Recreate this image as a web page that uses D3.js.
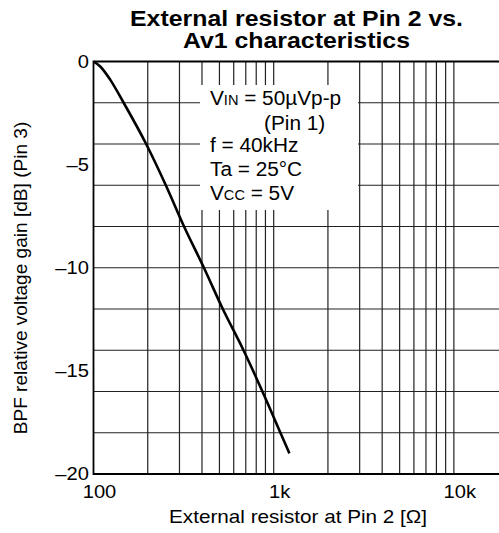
<!DOCTYPE html>
<html lang="en">
<head>
    <meta charset="UTF-8">
    <title>External resistor at Pin 2 vs. Av1 characteristics</title>
    <style>
        body {
            margin: 0;
            padding: 0;
            background: #fff;
        }
        svg text {
            font-family: 'Liberation Sans', Arial, sans-serif;
            fill: #000;
        }
    </style>
</head>
<body>
    <svg width="499" height="533"></svg>

    <script src="https://d3js.org/d3.v7.min.js"></script>
    <script>
        // values
        const resistance = [100, 109, 124, 147, 196, 252, 318, 410, 522, 680, 866, 1090, 1222];
        const gain = [0, -0.24, -0.89, -2, -4, -6, -8, -10, -12, -14, -16, -18, -19];

        const xTicks = [100, 1000, 10000];
        const xTickLabels = ['100', '1k', '10k'];
        const xGrid = [200, 300, 400, 500, 600, 700, 800, 900, 1000,
                       2000, 3000, 4000, 5000, 6000, 7000, 8000, 9000, 10000];
        const yTicks = [0, -5, -10, -15, -20];
        const yGrid = [-2, -4, -6, -8, -10, -12, -14, -16, -18];

        const noteLines = ['f = 40kHz', 'Ta = 25°C'];

        const plotLeft = 93.5, plotTop = 61.5, plotBottom = 474, plotRight = 499;

        const svg = d3.select('svg');

        const x = d3.scaleLog().domain([100, 17800]).range([plotLeft, plotRight]);
        const y = d3.scaleLinear().domain([-20, 0]).range([plotBottom, plotTop]);

        // the source font is a bit wider than Arial, so stretch text horizontally
        function label(parent, tx, ty, sx, size) {
            return parent.append('text')
                .attr('transform', `translate(${tx},${ty}) scale(${sx},1)`)
                .attr('font-size', size);
        }

        // grid
        svg.append('g')
            .selectAll('line')
            .data(xGrid)
            .join('line')
                .attr('x1', d => x(d)).attr('x2', d => x(d))
                .attr('y1', plotTop).attr('y2', plotBottom)
                .attr('stroke', '#222')
                .attr('stroke-width', 1.2);

        svg.append('g')
            .selectAll('line')
            .data(yGrid)
            .join('line')
                .attr('x1', plotLeft).attr('x2', plotRight)
                .attr('y1', d => y(d)).attr('y2', d => y(d))
                .attr('stroke', '#222')
                .attr('stroke-width', 1.2);

        // frame: left, top, bottom
        svg.append('path')
            .attr('d', `M${plotRight},${plotTop}H${plotLeft}V${plotBottom}H${plotRight}`)
            .attr('fill', 'none')
            .attr('stroke', '#000')
            .attr('stroke-width', 1.8);

        // conditions box (white background hides the grid)
        svg.append('rect')
            .attr('x', 200).attr('y', 85)
            .attr('width', 158).attr('height', 125)
            .attr('fill', '#fff');

        const note = svg.append('g');
        const t1 = label(note, 210, 105, 1.04, 20);
        t1.append('tspan').text('V');
        t1.append('tspan').attr('font-size', 14).text('IN');
        t1.append('tspan').text(' = 50µVp-p');
        label(note, 264, 130, 1.04, 20).text('(Pin 1)');
        noteLines.forEach((d, i) => {
            label(note, 210, 152 + i * 24, 1.04, 20).text(d);
        });
        const t5 = label(note, 210, 200, 1.04, 20);
        t5.append('tspan').text('V');
        t5.append('tspan').attr('font-size', 14).text('CC');
        t5.append('tspan').text(' = 5V');

        // curve
        const line = d3.line()
            .x((d, i) => x(resistance[i]))
            .y(d => y(d))
            .curve(d3.curveMonotoneX);

        svg.append('path')
            .datum(gain)
            .attr('d', line)
            .attr('fill', 'none')
            .attr('stroke', '#000')
            .attr('stroke-width', 2.6);

        // tick labels
        const yLab = svg.append('g');
        yTicks.forEach(d => {
            label(yLab, 89, y(d) + 6, 1.12, 18)
                .attr('text-anchor', 'end')
                .text(d === 0 ? '0' : '–' + Math.abs(d));
        });

        const xLab = svg.append('g');
        xTicks.forEach((d, i) => {
            label(xLab, x(d) + 6, 498, 1.12, 18)
                .attr('text-anchor', 'middle')
                .text(xTickLabels[i]);
        });

        // titles
        label(svg, 296.5, 26, 1.13, 22)
            .attr('text-anchor', 'middle')
            .attr('font-weight', 'bold')
            .text('External resistor at Pin 2 vs.');
        label(svg, 296.5, 48, 1.13, 22)
            .attr('text-anchor', 'middle')
            .attr('font-weight', 'bold')
            .text('Av1 characteristics');

        label(svg, 298, 523, 1.15, 18)
            .attr('text-anchor', 'middle')
            .text('External resistor at Pin 2 [Ω]');

        svg.append('text')
            .attr('transform', 'translate(27,278) rotate(-90) scale(1.06,1)')
            .attr('text-anchor', 'middle')
            .attr('font-size', 18)
            .text('BPF relative voltage gain [dB] (Pin 3)');
    </script>
</body>
</html>
